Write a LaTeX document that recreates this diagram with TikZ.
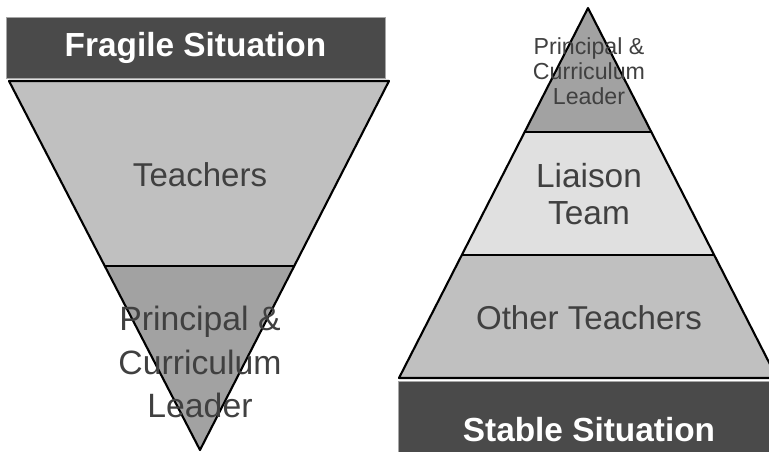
\documentclass[tikz,border=0pt]{standalone}
\usepackage{fontspec}
\setmainfont{Liberation Sans}
\usetikzlibrary{positioning}

\definecolor{bannergray}{HTML}{4A4A4A}
\definecolor{tierlight}{HTML}{E0E0E0}
\definecolor{tiermid}{HTML}{C0C0C0}
\definecolor{tierdark}{HTML}{A2A2A2}
\definecolor{labelgray}{HTML}{404040}

\begin{document}
\begin{tikzpicture}[x=0.02cm,y=-0.02cm,
  every node/.style={font=\fontsize{18.8}{21}\selectfont,text=labelgray,align=center},
  banner/.style={fill=bannergray,draw=gray!70,line width=0.4pt,inner sep=0pt,
    text=white,font=\fontsize{19}{22}\selectfont\bfseries},
  tier/.style={draw=black,line width=1.2pt,line join=round}]
\clip (0,0) rectangle (769,451);

% fragile: upside-down triangle
\node[banner,minimum width=379*0.02cm,minimum height=61*0.02cm] (fragile) at (195.5,47.5) {Fragile Situation};
\fill[tiermid] (9,81) -- (389,81) -- (294.2,266) -- (104.8,266) -- cycle;
\fill[tierdark] (104.8,266) -- (294.2,266) -- (200,450) -- cycle;
\draw[tier] (9,81) -- (389,81) -- (200,450) -- cycle;
\draw[tier] (104.8,266) -- (294.2,266);
\node (teachers) at (200,175) {Teachers};
\node[font=\fontsize{19.2}{25}\selectfont] (leadL) at (200,362) {Principal \&\\Curriculum\\Leader};

% stable: upright pyramid
\fill[tierdark] (588,8) -- (651,132) -- (525,132) -- cycle;
\fill[tierlight] (525,132) -- (651,132) -- (714,255) -- (462,255) -- cycle;
\fill[tiermid] (462,255) -- (714,255) -- (777,378) -- (399,378) -- cycle;
\draw[tier] (588,8) -- (777,378) -- (399,378) -- cycle;
\draw[tier] (525,132) -- (651,132);
\draw[tier] (462,255) -- (714,255);
\node[font=\fontsize{13.2}{14.2}\selectfont] (leadR) at (589,71) {Principal \&\\Curriculum\\Leader};
\node[font=\fontsize{19}{21}\selectfont] (liaison) at (589,194) {Liaison\\Team};
\node (others) at (589,318) {Other Teachers};
\node[banner,minimum width=382*0.02cm,minimum height=75*0.02cm] (stable) at (589,418.5) {};
\node[text=white,font=\fontsize{19}{22}\selectfont\bfseries] (stabletext) at (589,430) {Stable Situation};
\end{tikzpicture}
\end{document}
